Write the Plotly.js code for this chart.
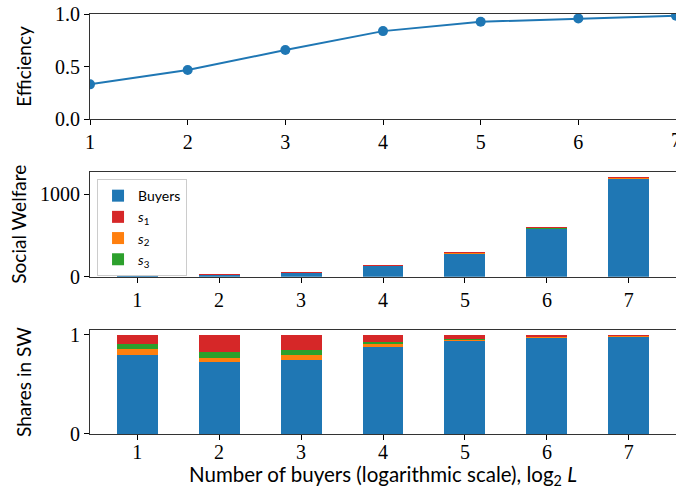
<!DOCTYPE html>
<html>
<head>
<meta charset="utf-8">
<script src="https://cdn.plot.ly/plotly-3.0.1.min.js"></script>
<style>
  html, body { margin: 0; padding: 0; background: #fff; }
  #chart { width: 676px; height: 489px; }
</style>
</head>
<body>
<div id="chart"></div>
<script>
// log2 of the number of buyers
const log2L = [1, 2, 3, 4, 5, 6, 7];

// Efficiency of the mechanism
const efficiency = [0.33, 0.467, 0.657, 0.837, 0.926, 0.958, 0.984];

// Total social welfare
const socialWelfare = [18, 32, 60, 145, 300, 600, 1213];

// Shares of social welfare
const shareBuyers = [0.797, 0.726, 0.746, 0.877, 0.937, 0.967, 0.977];
const shareS1 = [0.093, 0.169, 0.154, 0.073, 0.043, 0.020, 0.008];
const shareS2 = [0.060, 0.040, 0.050, 0.030, 0.012, 0.008, 0.010];
const shareS3 = [0.050, 0.065, 0.050, 0.020, 0.008, 0.005, 0.005];

const xTickLabels = ['1', '2', '3', '4', '5', '6', '7'];

const C_BLUE = '#1f77b4', C_RED = '#d62728', C_ORANGE = '#ff7f0e', C_GREEN = '#2ca02c';

// welfare of each group = total welfare × its share
const part = (share) => share.map((s, i) => s * socialWelfare[i]);

// stacking order (bottom to top): buyers, s2, s3, s1
const groups = [
  { name: 'Buyers', share: shareBuyers, color: C_BLUE, rank: 1 },
  { name: '<i>s</i><sub>2</sub>', share: shareS2, color: C_ORANGE, rank: 3 },
  { name: '<i>s</i><sub>3</sub>', share: shareS3, color: C_GREEN, rank: 4 },
  { name: '<i>s</i><sub>1</sub>', share: shareS1, color: C_RED, rank: 2 }
];

const traces = [{
  type: 'scatter', mode: 'lines+markers',
  x: log2L, y: efficiency,
  xaxis: 'x', yaxis: 'y',
  line: { color: C_BLUE, width: 2 },
  marker: { color: C_BLUE, size: 10 },
  showlegend: false, cliponaxis: true
}];

groups.forEach(g => {
  traces.push({
    type: 'bar', x: log2L, y: part(g.share), name: g.name,
    xaxis: 'x2', yaxis: 'y2', width: 0.5,
    marker: { color: g.color, line: { width: 0 } },
    legendrank: g.rank
  });
});
groups.forEach(g => {
  traces.push({
    type: 'bar', x: log2L, y: g.share, name: g.name,
    xaxis: 'x3', yaxis: 'y3', width: 0.5,
    marker: { color: g.color, line: { width: 0 } },
    showlegend: false
  });
});

const tickFont = { family: 'Liberation Serif, DejaVu Serif, serif', size: 20, color: '#000' };
const titleFont = { family: 'Lato, DejaVu Sans, sans-serif', size: 19, color: '#000' };

const commonAxis = {
  showline: true, linecolor: '#333', linewidth: 1, mirror: true,
  ticks: 'outside', ticklen: 5, tickwidth: 1, tickcolor: '#000',
  showgrid: false, zeroline: false, tickfont: tickFont
};

const barX = Object.assign({}, commonAxis, {
  range: [0.425, 7.575], tickvals: log2L, ticktext: xTickLabels
});

const layout = {
  width: 676, height: 489,
  margin: { l: 90, r: 0, t: 14, b: 55 },
  paper_bgcolor: '#fff', plot_bgcolor: '#fff',
  barmode: 'stack', bargap: 0,
  showlegend: true,
  legend: {
    x: 0.012, y: 0.607, xanchor: 'left', yanchor: 'top',
    bgcolor: 'rgba(255,255,255,0.8)', bordercolor: '#ccc', borderwidth: 1,
    font: { family: 'Lato, DejaVu Sans, sans-serif', size: 14, color: '#000' },
    traceorder: 'normal', itemwidth: 30, tracegroupgap: 0
  },
  xaxis: Object.assign({}, commonAxis, {
    domain: [0, 1], anchor: 'y', range: [1, 7],
    tickvals: log2L, ticktext: xTickLabels
  }),
  yaxis: Object.assign({}, commonAxis, {
    domain: [0.75, 1], anchor: 'x', range: [0, 1],
    tickvals: [0, 0.5, 1], ticktext: ['0.0', '0.5', '1.0'],
    title: { text: 'Efficiency', font: titleFont, standoff: 18 }
  }),
  xaxis2: Object.assign({}, barX, { domain: [0, 1], anchor: 'y2' }),
  yaxis2: Object.assign({}, commonAxis, {
    domain: [0.3745, 0.6245], anchor: 'x2', range: [0, 1274],
    tickvals: [0, 1000], ticktext: ['0', '1000'],
    title: { text: 'Social Welfare', font: titleFont, standoff: 8 }
  }),
  xaxis3: Object.assign({}, barX, { domain: [0, 1], anchor: 'y3', ticklabelstandoff: -5 }),
  yaxis3: Object.assign({}, commonAxis, {
    domain: [0, 0.2476], anchor: 'x3', range: [0, 1.05],
    tickvals: [0, 1], ticktext: ['0', '1'],
    title: { text: 'Shares in SW', font: titleFont, standoff: 33 }
  }),
  annotations: [
    // last tick label of the efficiency axis sits on the figure's right edge
    {
      text: '7', xref: 'x', x: 7, yref: 'paper', y: 0.75, yshift: -8,
      xanchor: 'center', yanchor: 'top', showarrow: false, font: tickFont
    },
    // shared x-axis label under the bottom panel
    {
      text: 'Number of buyers (logarithmic scale), log<sub>2</sub> <i>L</i>',
      xref: 'paper', x: 0.5, yref: 'paper', y: -0.099,
      xanchor: 'center', yanchor: 'middle', showarrow: false,
      font: { family: 'Lato, DejaVu Sans, sans-serif', size: 20.5, color: '#000' }
    }
  ]
};

Plotly.newPlot('chart', traces, layout, { staticPlot: true, displayModeBar: false });
</script>
</body>
</html>
